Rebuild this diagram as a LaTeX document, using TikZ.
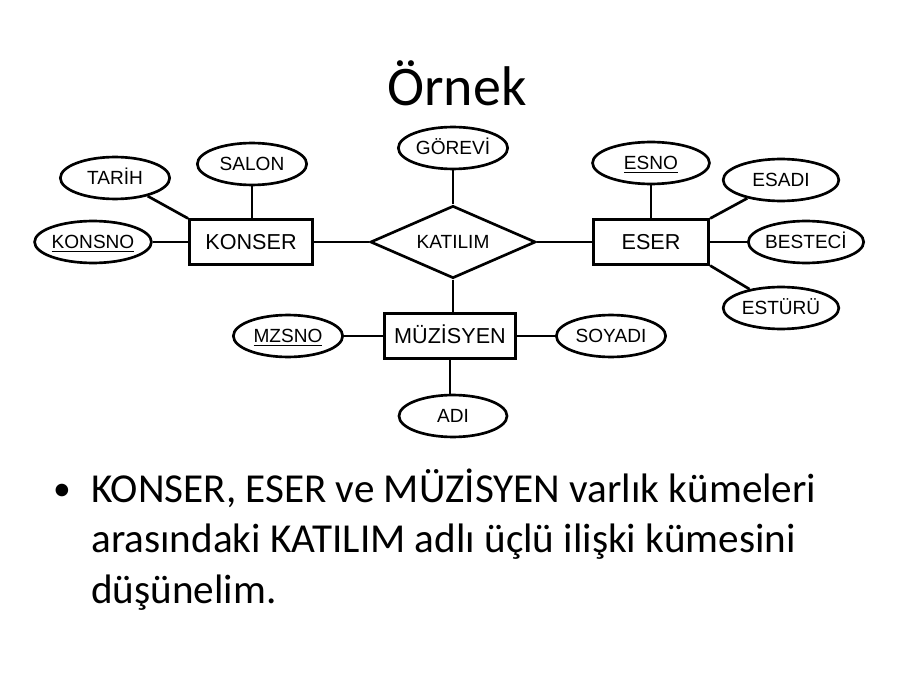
\documentclass[tikz,border=0pt]{standalone}
\usepackage{fontspec}
\setmainfont{Carlito}
\newfontfamily\erfont{Liberation Sans}
\usetikzlibrary{shapes.geometric,positioning}
\tikzset{attr/.style={shape=ellipse, draw, inner sep=0pt, text height=10.7pt, text depth=0pt,
    minimum width=86pt, minimum height=33pt, font=\erfont\fontsize{15}{18}\selectfont}}
\tikzset{entity/.style={shape=rectangle, draw, inner sep=0pt, text height=12.2pt, text depth=0pt,
    minimum height=35pt, font=\erfont\fontsize{17}{20}\selectfont}}
\tikzset{rel/.style={shape=diamond, draw, inner sep=0pt, aspect=2.3, text height=10.7pt, text depth=0pt,
    minimum width=130pt, minimum height=57pt, font=\erfont\fontsize{15}{18}\selectfont}}

\begin{document}
\begin{tikzpicture}[x=0.7869pt, y=-0.7869pt, line width=2.1pt]
  \useasboundingbox (0,0) rectangle (915,688);
  \node[anchor=base, font=\fontsize{44}{53}\selectfont] (title) at (457,106) {Örnek};
  % entities and relationship
  \node[entity, minimum width=97pt] (konser) at (251,242) {KONSER};
  \node[entity, minimum width=91pt] (eser) at (651,242) {ESER};
  \node[entity, minimum width=103pt] (muzisyen) at (450,336) {MÜZİSYEN};
  \node[rel] (katilim) at (453,242) {KATILIM};
  % attributes
  \node[attr] (konsno) at (93,242) {\underline{KONSNO}};
  \node[attr] (tarih) at (115,178) {TARİH};
  \node[attr] (salon) at (252,164) {SALON};
  \node[attr] (gorevi) at (453,148) {GÖREVİ};
  \node[attr, minimum width=92pt] (esno) at (651,163) {\underline{ESNO}};
  \node[attr, minimum width=91pt] (esadi) at (781,180) {ESADI};
  \node[attr, minimum width=85pt] (besteci) at (806,242) {BESTECİ};
  \node[attr, minimum width=91pt] (esturu) at (781,308) {ESTÜRÜ};
  \node[attr] (mzsno) at (288,336) {\underline{MZSNO}};
  \node[attr] (soyadi) at (611,336) {SOYADI};
  \node[attr, minimum width=85pt] (adi) at (453,416) {ADI};
  % connectors
  \draw (konsno) -- (konser);
  \draw (tarih) -- (konser.north west);
  \draw (salon) -- (salon |- konser.north);
  \draw (konser) -- (katilim);
  \draw (gorevi) -- (katilim);
  \draw (katilim) -- (eser);
  \draw (esno) -- (eser);
  \draw (esadi) -- (eser.north east);
  \draw (besteci) -- (eser);
  \draw (esturu) -- (eser.south east);
  \draw (katilim.south) -- (katilim.south |- muzisyen.north);
  \draw (mzsno) -- (muzisyen);
  \draw (soyadi) -- (muzisyen);
  \draw (muzisyen.south) -- (muzisyen.south |- adi.north);
  % bullet text
  \node[anchor=base, font=\fontsize{28}{34}\selectfont] (dot) at (62,500) {•};
  \node[anchor=base west, inner sep=0pt, align=left, font=\fontsize{32.4}{39.4}\selectfont] (text) at (90,603)
    {KONSER, ESER ve MÜZİSYEN varlık kümeleri\\arasındaki KATILIM adlı üçlü ilişki kümesini\\düşünelim.};
\end{tikzpicture}
\end{document}
